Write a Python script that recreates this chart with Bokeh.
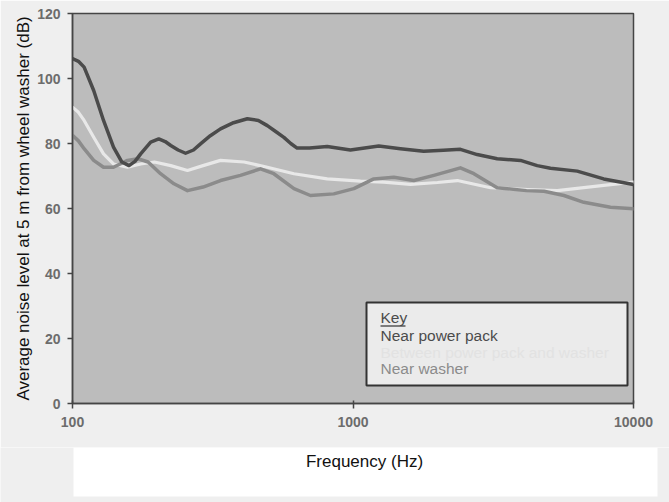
from bokeh.plotting import figure
from bokeh.models import Range1d, FixedTicker, BoxAnnotation, Label, NumeralTickFormatter
from bokeh.layouts import column
from bokeh.embed import file_html
from bokeh.resources import INLINE

# ---------------- data ----------------
series_names = ["Near power pack", "Between power pack and washer", "Near washer"]

freq_power = [100, 105, 110, 119, 129, 140, 150, 159, 167, 175, 190, 203, 214, 224, 238,
              253, 270, 286, 310, 337, 375, 420, 460, 495, 530, 567, 600, 632, 700, 809,
              979, 1236, 1476, 1786, 2100, 2415, 2771, 3266, 3955, 4536, 5059, 6300,
              7830, 10000]
level_power = [106.1, 105.3, 103.5, 96.3, 87.1, 78.9, 74.3, 73.2, 74.5, 76.8, 80.4, 81.4,
               80.6, 79.4, 78.0, 77.0, 78.0, 79.9, 82.4, 84.5, 86.4, 87.6, 87.1, 85.5,
               83.7, 81.9, 80.0, 78.6, 78.6, 79.1, 78.0, 79.2, 78.4, 77.6, 77.9, 78.2,
               76.6, 75.3, 74.8, 73.2, 72.4, 71.5, 69.1, 67.4]

freq_between = [100, 105, 110, 119, 129, 140, 157, 175, 196, 224, 257, 292, 337, 409,
                495, 616, 809, 1064, 1288, 1603, 2000, 2355, 3093, 4200, 5345, 7830,
                10000]
level_between = [91.2, 89.6, 87.1, 81.9, 76.8, 73.7, 72.7, 73.7, 74.3, 73.2, 71.7, 73.2,
                 74.8, 74.3, 72.7, 70.7, 69.1, 68.4, 68.1, 67.4, 68.0, 68.6, 66.4, 65.8,
                 65.5, 67.1, 68.1]

freq_washer = [100, 105, 110, 119, 129, 140, 157, 171, 186, 206, 230, 257, 292, 337,
               397, 468, 522, 616, 705, 854, 1007, 1186, 1399, 1648, 1942, 2415, 2698,
               3266, 4150, 4800, 5650, 6650, 8280, 10000]
level_washer = [82.5, 80.8, 78.4, 74.8, 72.7, 72.7, 74.8, 75.3, 74.3, 70.7, 67.6, 65.5,
                66.6, 68.6, 70.2, 72.2, 70.7, 66.1, 64.0, 64.5, 66.1, 69.1, 69.6, 68.6,
                70.2, 72.5, 70.7, 66.4, 65.5, 65.3, 64.0, 61.9, 60.4, 59.9]

x_ticks = [100, 1000, 10000]
y_ticks = [0, 20, 40, 60, 80, 100, 120]

y_title = "Average noise level at 5 m from wheel washer (dB)"
x_title = "Frequency (Hz)"
key_title = "Key"

# ---------------- styling ----------------
BG = "#efefef"
PLOT_BG = "#bcbcbc"
AXIS = "#454545"
line_colors = ["#4b4b4b", "#e8e8e8", "#8b8b8b"]
text_colors = ["#4b4b4b", "#e2e2e2", "#8b8b8b"]
TICK_FONT = "Liberation Sans"
TITLE_FONT = "Liberation Sans"

p = figure(width=669, height=447, x_axis_type="log",
           x_range=Range1d(100, 10000), y_range=Range1d(0, 120),
           output_backend="svg", toolbar_location=None,
           min_border_left=72, min_border_right=36, min_border_top=13,
           min_border_bottom=44)
p.background_fill_color = PLOT_BG
p.border_fill_color = BG
p.outline_line_color = AXIS
p.outline_line_width = 1.5
p.xgrid.visible = False
p.ygrid.visible = False

p.xaxis.ticker = FixedTicker(ticks=x_ticks)
p.xaxis.formatter = NumeralTickFormatter(format="0")
p.yaxis.ticker = FixedTicker(ticks=y_ticks)
for ax in (p.xaxis, p.yaxis):
    ax.axis_line_color = AXIS
    ax.axis_line_width = 1.5
    ax.major_tick_line_color = AXIS
    ax.major_tick_line_width = 1.5
    ax.minor_tick_line_color = None
    ax.major_label_text_font = TICK_FONT
    ax.major_label_text_font_style = "bold"
    ax.major_label_text_font_size = "14px"
    ax.major_label_text_color = "#6c6c6c"
p.xaxis.major_tick_in = 3
p.xaxis.major_tick_out = 5
p.xaxis.major_label_standoff = 8
p.yaxis.major_tick_in = 0
p.yaxis.major_tick_out = 5
p.yaxis.major_label_standoff = 7

p.yaxis.axis_label = y_title
p.yaxis.axis_label_text_font = TITLE_FONT
p.yaxis.axis_label_text_font_size = "17px"
p.yaxis.axis_label_text_font_style = "normal"
p.yaxis.axis_label_text_color = "#111111"
p.yaxis.axis_label_standoff = 1

# series lines (drawn light, washer, then power pack on top)
p.line(freq_between, level_between, line_color=line_colors[1], line_width=3.2,
       line_join="round", line_cap="round")
p.line(freq_washer, level_washer, line_color=line_colors[2], line_width=3.5,
       line_join="round", line_cap="round")
p.line(freq_power, level_power, line_color=line_colors[0], line_width=3.5,
       line_join="round", line_cap="round")

# ---------------- key box (positions in frame pixels -> data) ----------------
def fx(px):
    return 10 ** (2 + (px - 72) / 280.5)


def fy(py):
    return (403 - py) / 3.25


p.add_layout(BoxAnnotation(left=fx(366), right=fx(627), top=fy(302), bottom=fy(385),
                           fill_color="#ebebeb", fill_alpha=1.0,
                           line_color="#333333", line_width=2, line_alpha=1.0))
p.add_layout(Label(x=fx(380), y=fy(317), text=key_title, text_font=TICK_FONT,
                   text_font_size="15.5px", text_color=text_colors[0],
                   text_baseline="alphabetic"))
p.line([fx(380), fx(405)], [fy(325.5), fy(325.5)], line_color=text_colors[0],
       line_width=1.4, level="overlay")
for i, (name, col) in enumerate(zip(series_names, text_colors)):
    p.add_layout(Label(x=fx(380), y=fy(335 + 16.5 * i), text=name, text_font=TICK_FONT,
                       text_font_size="15.5px", text_color=col,
                       text_baseline="alphabetic"))

# ---------------- bottom strip with x title ----------------
p2 = figure(width=669, height=55, x_range=Range1d(0, 669), y_range=Range1d(0, 55),
            output_backend="svg", toolbar_location=None,
            x_axis_location=None, y_axis_location=None, min_border=0)
p2.background_fill_color = BG
p2.border_fill_color = BG
p2.outline_line_color = None
p2.grid.visible = False
for fig in (p, p2):
    try:
        fig.frame_align = False
    except Exception:
        pass
p2.add_layout(BoxAnnotation(left=73, right=657, top=55, bottom=6,
                            fill_color="#ffffff", fill_alpha=1.0, line_color=None))
p2.add_layout(Label(x=364, y=41, text=x_title, text_font=TITLE_FONT,
                    text_font_size="17px", text_color="#111111",
                    text_align="center", text_baseline="middle"))

layout = column(p, p2, spacing=0)
open("out.html", "w").write(file_html(layout, INLINE))
